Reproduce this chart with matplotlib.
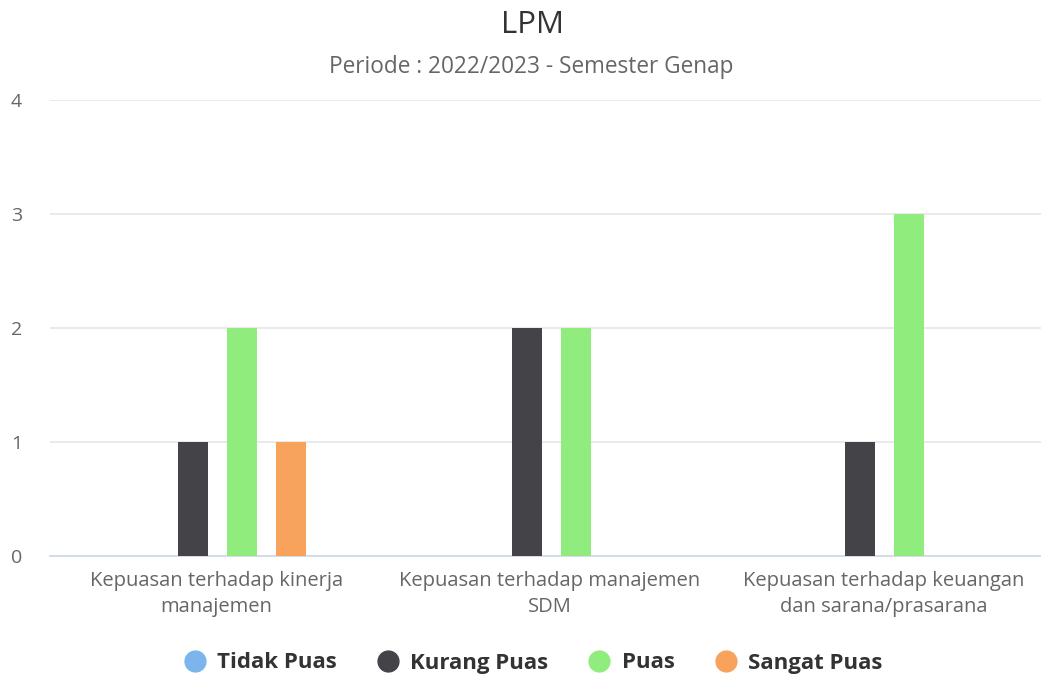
import numpy as np
import matplotlib.pyplot as plt
from matplotlib.lines import Line2D

plt.rcParams['font.family'] = ['Open Sans', 'DejaVu Sans']

categories = ['Kepuasan terhadap kinerja\nmanajemen',
              'Kepuasan terhadap manajemen\nSDM',
              'Kepuasan terhadap keuangan\ndan sarana/prasarana']
series_names = ['Tidak Puas', 'Kurang Puas', 'Puas', 'Sangat Puas']
tidak_puas = [0, 0, 0]
kurang_puas = [1, 2, 1]
puas = [2, 2, 3]
sangat_puas = [1, 0, 0]
colors = ['#7cb5ec', '#434348', '#90ed7d', '#f7a35c']

fig = plt.figure(figsize=(10.41, 6.79), dpi=100)
ax = fig.add_axes([50 / 1041, 1 - 556 / 679, 1 - 50 / 1041, (556 - 100) / 679])

x = np.arange(len(categories))
slot = 0.147
width = 0.09
all_series = [tidak_puas, kurang_puas, puas, sangat_puas]
for i, vals in enumerate(all_series):
    ax.bar(x + (i - 1.5) * slot + 0.003, vals, width=width, color=colors[i], zorder=3)

ax.set_xlim(-0.5, 2.473)
ax.set_ylim(0, 4)
ax.set_yticks([0, 1, 2, 3, 4])
ax.yaxis.grid(True, color='#e6e6e6', linewidth=1.2, zorder=0)
ax.set_xticks(x)
ax.set_xticklabels(categories, fontsize=14.5, color='#666666', linespacing=1.38)
ax.tick_params(axis='x', length=0, pad=11)
ax.tick_params(axis='y', length=0, pad=28, labelsize=14, labelcolor='#666666')
for lbl in ax.get_yticklabels():
    lbl.set_horizontalalignment('left')
for s in ['top', 'right', 'left']:
    ax.spines[s].set_visible(False)
ax.spines['bottom'].set_color('#ccd6eb')
ax.spines['bottom'].set_linewidth(1.2)

fig.text(533 / 1041, 1 - 25 / 679, 'LPM', ha='center', va='center', fontsize=22.5, color='#333333')
fig.text(531 / 1041, 1 - 67 / 679, 'Periode : 2022/2023 - Semester Genap', ha='center', va='center',
         fontsize=16.3, color='#666666')

handles = [Line2D([], [], marker='o', linestyle='none', markersize=15,
                  markerfacecolor=c, markeredgecolor=c) for c in colors]
leg = fig.legend(handles, series_names, loc='center', bbox_to_anchor=(533 / 1041, 1 - 663 / 679),
                 ncol=4, frameon=False, handlelength=1.0, handletextpad=0.5, columnspacing=1.8,
                 prop={'weight': 'bold', 'size': 16})
for t in leg.get_texts():
    t.set_color('#333333')

fig.savefig('out.png', dpi=100)
